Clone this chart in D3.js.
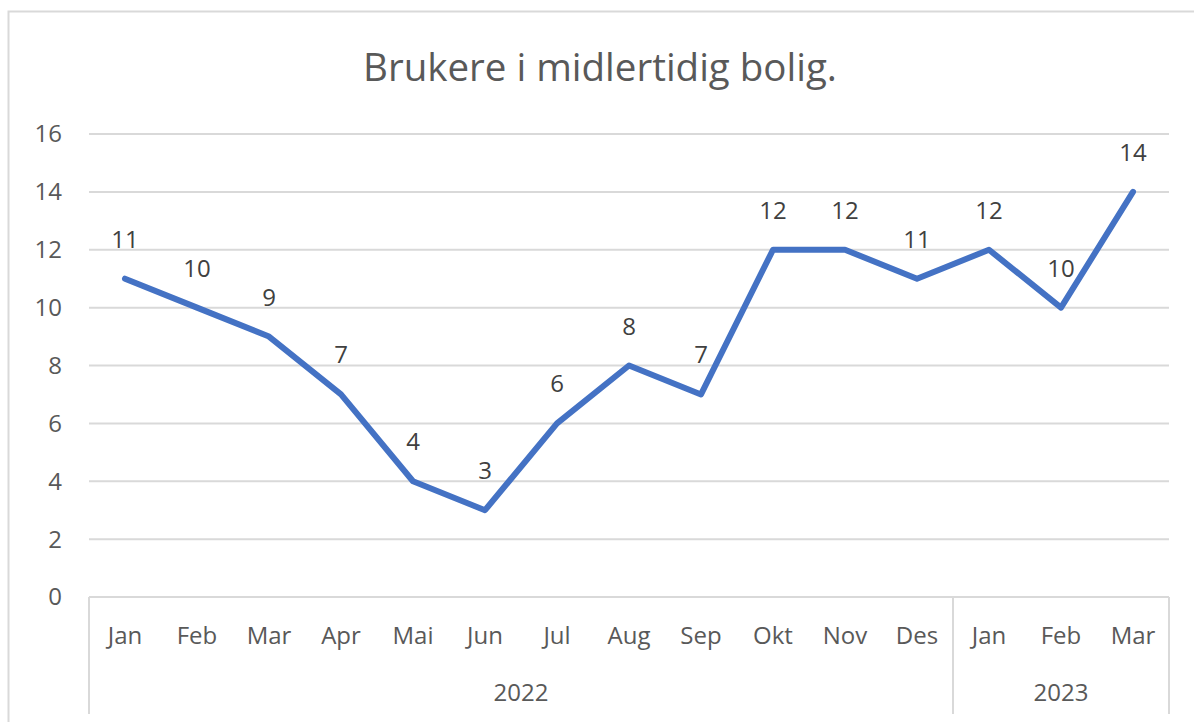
<!DOCTYPE html>
<html>
<head>
<meta charset="utf-8">
<script src="https://cdn.jsdelivr.net/npm/d3@7"></script>
<style>
  body { margin: 0; background: #fff; }
  svg { display: block; font-family: "Open Sans", Lato, sans-serif; }
</style>
</head>
<body>
<svg width="1194" height="722"></svg>
<script>
(() => {

var months = ["Jan", "Feb", "Mar", "Apr", "Mai", "Jun", "Jul", "Aug", "Sep", "Okt", "Nov", "Des", "Jan", "Feb", "Mar"];
var years = ["2022", "2022", "2022", "2022", "2022", "2022", "2022", "2022", "2022", "2022", "2022", "2022", "2023", "2023", "2023"];
var values = [11, 10, 9, 7, 4, 3, 6, 8, 7, 12, 12, 11, 12, 10, 14];
var yTicks = [0, 2, 4, 6, 8, 10, 12, 14, 16];

var svg = d3.select("svg"),
    left = 89, right = 1169, top = 134, bottom = 597;

// chart frame
svg.append("rect")
    .attr("x", 8.5).attr("y", 11.5)
    .attr("width", 1200).attr("height", 720)
    .attr("fill", "none")
    .attr("stroke", "#d9d9d9")
    .attr("stroke-width", 2);

svg.append("text")
    .attr("x", 600).attr("y", 81)
    .attr("text-anchor", "middle")
    .attr("font-size", 38.5)
    .attr("fill", "#595959")
    .text("Brukere i midlertidig bolig.");

var idx = d3.range(values.length);

var x = d3.scaleBand()
    .domain(idx)
    .range([left, right]);

var y = d3.scaleLinear()
    .domain([0, 16])
    .range([bottom, top]);

// gridlines
svg.append("g")
    .selectAll("line")
    .data(yTicks.filter(function(d) { return d > 0; }))
    .enter().append("line")
      .attr("x1", left).attr("x2", right)
      .attr("y1", function(d) { return y(d); })
      .attr("y2", function(d) { return y(d); })
      .attr("stroke", "#d9d9d9")
      .attr("stroke-width", 2);

// y labels
svg.append("g")
    .attr("font-size", 24)
    .attr("fill", "#595959")
    .attr("text-anchor", "end")
  .selectAll("text")
  .data(yTicks)
  .enter().append("text")
    .attr("x", 62)
    .attr("y", function(d) { return y(d); })
    .attr("dy", "0.35em")
    .text(function(d) { return d; });

// category axis: baseline + group separators
svg.append("line")
    .attr("x1", left).attr("x2", right)
    .attr("y1", bottom).attr("y2", bottom)
    .attr("stroke", "#d9d9d9")
    .attr("stroke-width", 2);

var groups = [];
years.forEach(function(yr, i) {
  var last = groups[groups.length - 1];
  if (last && last.year === yr) last.end = i;
  else groups.push({year: yr, start: i, end: i});
});

var seps = [left].concat(groups.map(function(g) { return x(g.end) + x.bandwidth(); }));

svg.append("g")
    .selectAll("line")
    .data(seps)
    .enter().append("line")
      .attr("x1", function(d) { return d; })
      .attr("x2", function(d) { return d; })
      .attr("y1", bottom).attr("y2", 714)
      .attr("stroke", "#d9d9d9")
      .attr("stroke-width", 2);

svg.append("g")
    .attr("font-size", 24)
    .attr("fill", "#595959")
    .attr("text-anchor", "middle")
  .selectAll("text")
  .data(idx)
  .enter().append("text")
    .attr("x", function(i) { return x(i) + x.bandwidth() / 2; })
    .attr("y", 644)
    .text(function(i) { return months[i]; });

svg.append("g")
    .attr("font-size", 24)
    .attr("fill", "#595959")
    .attr("text-anchor", "middle")
  .selectAll("text")
  .data(groups)
  .enter().append("text")
    .attr("x", function(g) { return (x(g.start) + x(g.end) + x.bandwidth()) / 2; })
    .attr("y", 701)
    .text(function(g) { return g.year; });

// the line
var line = d3.line()
    .x(function(i) { return x(i) + x.bandwidth() / 2; })
    .y(function(i) { return y(values[i]); });

svg.append("path")
    .datum(idx)
    .attr("d", line)
    .attr("fill", "none")
    .attr("stroke", "#4472c4")
    .attr("stroke-width", 6)
    .attr("stroke-linejoin", "round")
    .attr("stroke-linecap", "round");

// data labels
svg.append("g")
    .attr("font-size", 24)
    .attr("fill", "#404040")
    .attr("text-anchor", "middle")
  .selectAll("text")
  .data(idx)
  .enter().append("text")
    .attr("x", function(i) { return x(i) + x.bandwidth() / 2; })
    .attr("y", function(i) { return y(values[i]) - 31; })
    .text(function(i) { return values[i]; });

})();
</script>
</body>
</html>
